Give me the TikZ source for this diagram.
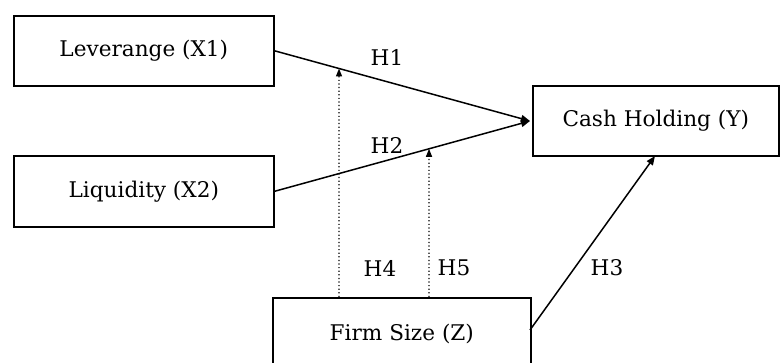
\documentclass[tikz,border=0pt]{standalone}
\usepackage{fontspec}
\setmainfont{DejaVu Serif}
\usetikzlibrary{arrows.meta}
\begin{document}
\begin{tikzpicture}[x=0.5pt,y=-0.5pt,
  box/.style={draw, line width=0.8pt, rectangle, inner sep=0pt, anchor=north west, font=\fontsize{10.8}{12}\selectfont},
  link/.style={line width=0.75pt, -{Triangle[length=4.5pt,width=3.6pt]}},
  modlink/.style={line width=0.7pt, dash pattern=on 0.6pt off 1.2pt, -{Triangle[length=4pt,width=3pt]}},
  hlab/.style={font=\fontsize{10.8}{12}\selectfont, inner sep=0pt}]
\useasboundingbox (0,0) rectangle (781,363);
\begin{scope}
\clip (0,0) rectangle (781,363);
\node[box, minimum width=130pt, minimum height=35pt] (x1) at (13,15) {Leverange (X1)};
\node[box, minimum width=130pt, minimum height=35.5pt] (x2) at (13,155) {Liquidity (X2)};
\node[box, minimum width=123pt, minimum height=35pt] (y) at (532,85) {Cash Holding (Y)};
\node[box, minimum width=129pt, minimum height=36pt] (z) at (272,297) {Firm Size (Z)};
\end{scope}
\coordinate (yin) at (530,121);
\draw[link] (x1.east) -- (yin);
\draw[link] (x2.east) -- (yin);
\coordinate (zout) at (530,330);
\coordinate (yb) at (655,156);
\draw[link] (zout) -- (yb);
\coordinate (z4) at (339,297);
\coordinate (z5) at (429,297);
\coordinate (m1) at (intersection of x1.east--yin and 339,0--339,400);
\coordinate (m2) at (intersection of x2.east--yin and 429,0--429,400);
\draw[modlink] (z4) -- (m1);
\draw[modlink] (z5) -- (m2);
\node[hlab] (h1) at (387,57) {H1};
\node[hlab] (h2) at (387,145) {H2};
\node[hlab] (h3) at (607,268) {H3};
\node[hlab] (h4) at (380,268) {H4};
\node[hlab] (h5) at (454,268) {H5};
\end{tikzpicture}
\end{document}
